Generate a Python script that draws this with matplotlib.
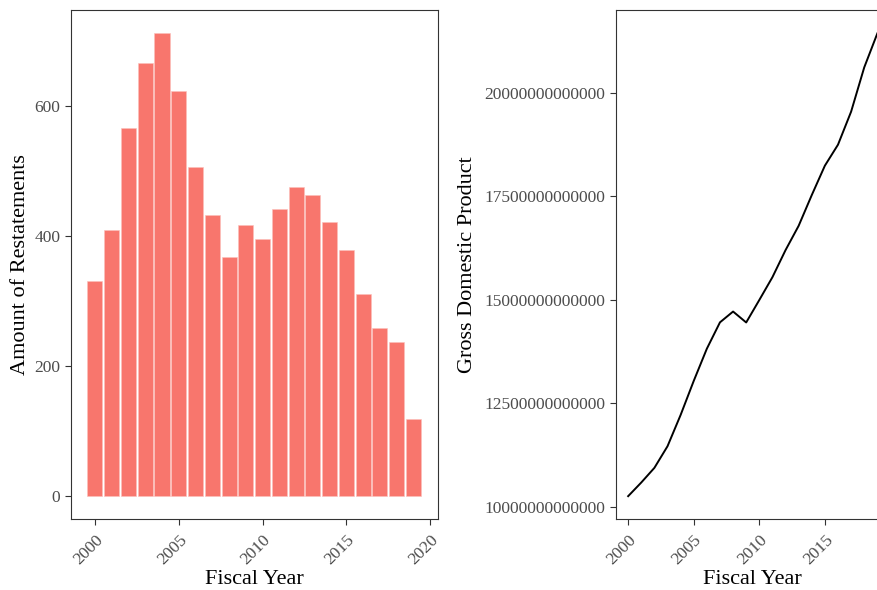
import matplotlib.pyplot as plt
import numpy as np

# data
years = np.arange(2000, 2020)
restatements = [331, 409, 565, 665, 711, 623, 506, 432, 367, 417,
                395, 442, 475, 462, 421, 378, 310, 258, 237, 119]
gdp = [10.252, 10.582, 10.936, 11.458, 12.214, 13.037, 13.815, 14.452, 14.713, 14.449,
       14.992, 15.543, 16.197, 16.785, 17.527, 18.238, 18.745, 19.543, 20.612, 21.433]
gdp = np.array(gdp) * 1e12

plt.rcParams['font.family'] = ['Liberation Serif', 'DejaVu Serif']

W, H = 878, 590
fig = plt.figure(figsize=(W / 100, H / 100), dpi=100)

def px_axes(x0, y0, x1, y1):
    return fig.add_axes([x0 / W, 1 - y1 / H, (x1 - x0) / W, (y1 - y0) / H])

def style(ax):
    for s in ax.spines.values():
        s.set_color('#333333')
        s.set_linewidth(0.8)
    ax.tick_params(length=4, width=0.8, color='#333333', labelcolor='#4D4D4D', labelsize=12.5)
    ax.tick_params(axis='x', pad=5)
    for lab in ax.get_xticklabels():
        lab.set_rotation(45)
        lab.set_ha('right')
        lab.set_va('top')
        lab.set_rotation_mode('anchor')
    ax.set_xlabel('Fiscal Year', fontsize=16, labelpad=2)

# left: restatements bar chart
ax1 = px_axes(70.7, 10.3, 437.7, 519.3)
ax1.bar(years, restatements, width=0.9, color='#F8766D', edgecolor='#FBC0BB', linewidth=0.4)
ax1.set_xlim(1998.555, 2020.445)
ymax = max(restatements)
ax1.set_ylim(-0.05 * ymax, 1.05 * ymax)
ax1.set_xticks([2000, 2005, 2010, 2015, 2020])
ax1.set_yticks([0, 200, 400, 600])
style(ax1)
ax1.set_ylabel('Amount of Restatements', fontsize=16, labelpad=3)

# right: GDP line, panel runs past the figure edge like the reference
ax2 = px_axes(615.7, 10.3, 889.8, 519.3)
ax2.plot(years, gdp, color='black', linewidth=1.4)
span = gdp.max() - gdp.min()
ax2.set_xlim(years.min() - 0.05 * 19, years.max() + 0.05 * 19)
ax2.set_ylim(gdp.min() - 0.05 * span, gdp.max() + 0.05 * span)
ax2.set_xticks([2000, 2005, 2010, 2015])
yt = [1.0e13, 1.25e13, 1.5e13, 1.75e13, 2.0e13]
ax2.set_yticks(yt)
ax2.set_yticklabels([f'{v:.0f}' for v in yt])
style(ax2)
ax2.set_ylabel('Gross Domestic Product', fontsize=16, labelpad=5)

fig.savefig('out.png', dpi=100)
